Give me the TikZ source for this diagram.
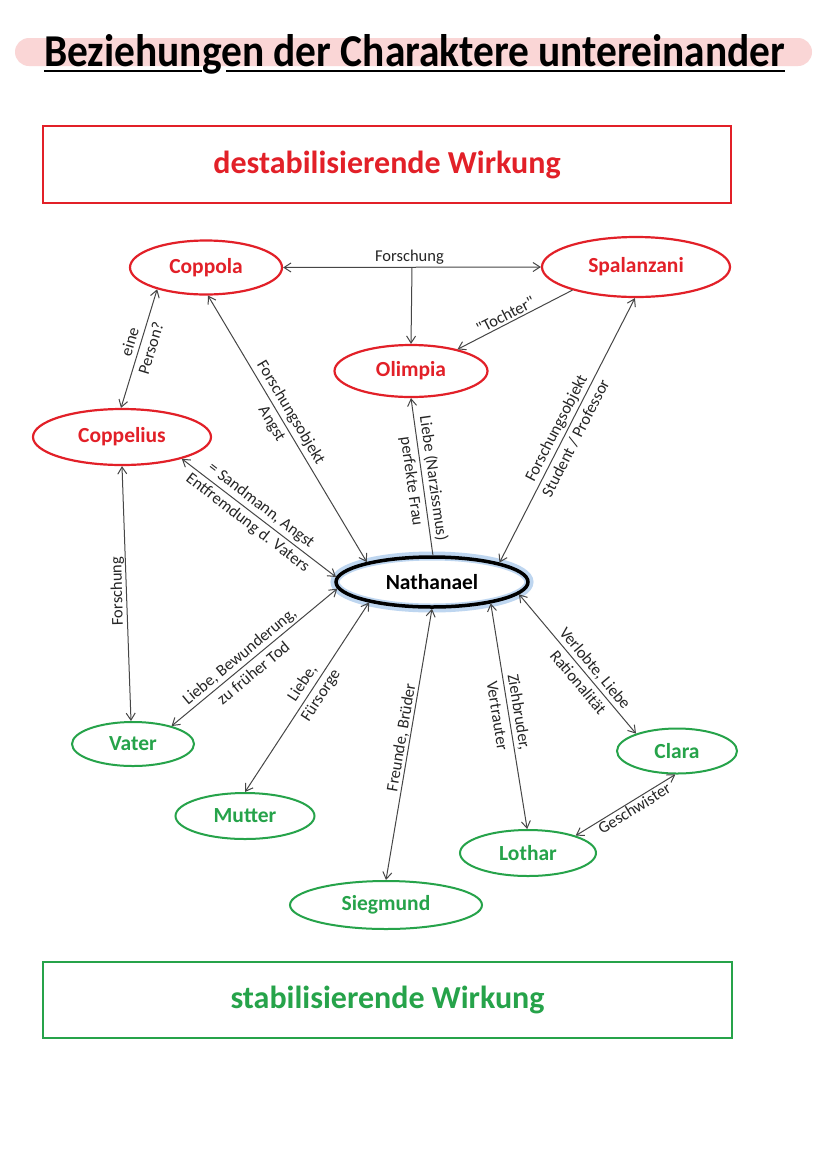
\documentclass[tikz,border=0pt]{standalone}
\usepackage{fontspec}
\setmainfont{Carlito}
\usetikzlibrary{shapes.geometric,arrows.meta,calc}
\definecolor{rd}{RGB}{226,32,40}
\definecolor{gr}{RGB}{38,163,74}
\definecolor{ln}{RGB}{70,70,70}
\definecolor{pinkbar}{RGB}{250,214,214}
\definecolor{glow}{RGB}{190,214,240}
\begin{document}
\begin{tikzpicture}[x=1pt,y=-1pt,
  redell/.style={ellipse, draw=rd, line width=2.2pt, text=rd, font=\fontsize{21.5}{24}\selectfont\bfseries, inner sep=0pt},
  greenell/.style={ellipse, draw=gr, line width=2pt, text=gr, font=\fontsize{21.5}{24}\selectfont\bfseries, inner sep=0pt},
  natell/.style={ellipse, draw=black, line width=3.5pt, text=black, font=\fontsize{21.5}{24}\selectfont\bfseries, inner sep=0pt},
  wirkbox/.style={draw, line width=2pt, inner sep=0pt, font=\fontsize{32}{35}\selectfont\bfseries},
  lab/.style={font=\fontsize{16.5}{22}\selectfont, text=black!85, align=center, inner sep=1pt, sloped},
  conn/.style={draw=ln, line width=1pt},
  both/.style={conn, {Straight Barb[length=7pt,width=9pt]}-{Straight Barb[length=7pt,width=9pt]}},
  one/.style={conn, -{Straight Barb[length=7pt,width=9pt]}}
]
\useasboundingbox[fill=white] (0,0) rectangle (828,1171);

% title
\fill[pinkbar, rounded corners=14pt] (15,38) rectangle (812,66);
\node[anchor=base west, inner sep=0pt] (title) at (44,66)
  {\resizebox{741pt}{32pt}{\bfseries Beziehungen der Charaktere untereinander}};
\draw[line width=2.5pt] (44,71) -- (202,71);
\draw[line width=2.5pt] (226,71) -- (785,71);

% boxes
\node[wirkbox, draw=rd, text=rd, minimum width=688pt, minimum height=77pt] (destab) at (387,164.5) {destabilisierende Wirkung};
\node[wirkbox, draw=gr, text=gr, minimum width=689pt, minimum height=76pt] (stab) at (387.5,1000) {stabilisierende Wirkung};

% nodes
\node[redell, minimum width=152pt, minimum height=54pt] (cop) at (206,267.5) {Coppola};
\node[redell, minimum width=188pt, minimum height=60pt] (spa) at (636,267) {Spalanzani};
\node[redell, minimum width=153pt, minimum height=52pt] (oli) at (411,371) {Olimpia};
\node[redell, minimum width=178pt, minimum height=56pt] (cpl) at (122,437) {Coppelius};
\node[ellipse, draw=glow, line width=9pt, minimum width=194pt, minimum height=52pt] (natglow) at (432,582) {};
\node[natell, minimum width=192pt, minimum height=50pt] (nat) at (432,582) {Nathanael};
\node[greenell, minimum width=122pt, minimum height=44pt] (vat) at (133,744) {Vater};
\node[greenell, minimum width=139pt, minimum height=46pt] (mut) at (245,816) {Mutter};
\node[greenell, minimum width=192pt, minimum height=48pt] (sie) at (386,905) {Siegmund};
\node[greenell, minimum width=136pt, minimum height=46pt] (lot) at (528,853) {Lothar};
\node[greenell, minimum width=120pt, minimum height=45pt] (cla) at (677,751) {Clara};

% connectors
\draw[both] (cop.east) -- node[lab, anchor=south, pos=.49, inner sep=2pt]{Forschung} (spa.west);
\coordinate (fx) at ($(cop.east)!0.5!(spa.west)$);
\draw[one] (fx) -- (oli.north);
\draw[one] (spa.200) -- node[lab, anchor=south, pos=.55, inner sep=2pt]{\textquotedbl Tochter\textquotedbl} (oli.25);
\draw[both] (cop.204) -- node[lab, pos=.47]{eine\\Person?} (cpl.92);
\draw[both] (cop.274) -- node[lab, pos=.46]{Forschungsobjekt\\Angst} (nat.163);
\draw[both] (cpl.340) -- node[lab, pos=.47]{= Sandmann, Angst\\Entfremdung d. Vaters} (nat.177);
\draw[both] (spa.268) -- node[lab, pos=.51]{Forschungsobjekt\\Student / Professor} (nat.16);
\draw[one] (nat.88) -- node[lab, pos=.48]{Liebe (Narzissmus)\\perfekte Frau} (oli.270);
\draw[both] (cpl.270) -- node[font=\fontsize{16.5}{22}\selectfont, text=black!85, inner sep=1pt, anchor=south, rotate=91.4, pos=.49]{Forschung} (vat.95);
\draw[both] (nat.184) -- node[lab, pos=.55]{Liebe, Bewunderung,\\zu früher Tod} (vat.25);
\draw[both] (nat.198) -- node[lab, pos=.46]{Liebe,\\Fürsorge} (mut.90);
\draw[both] (nat.270) -- node[lab, anchor=south, pos=.48]{Freunde, Brüder} (sie.90);
\draw[both] (nat.340) -- node[lab, pos=.49]{Ziehbruder,\\Vertrauter} (lot.92);
\draw[both] (nat.352) -- node[lab, pos=.58]{Verlobte, Liebe\\Rationalität} (cla.157);
\draw[both] (cla.266) -- node[lab, anchor=north, pos=.45]{Geschwister} (lot.20);
\end{tikzpicture}
\end{document}
